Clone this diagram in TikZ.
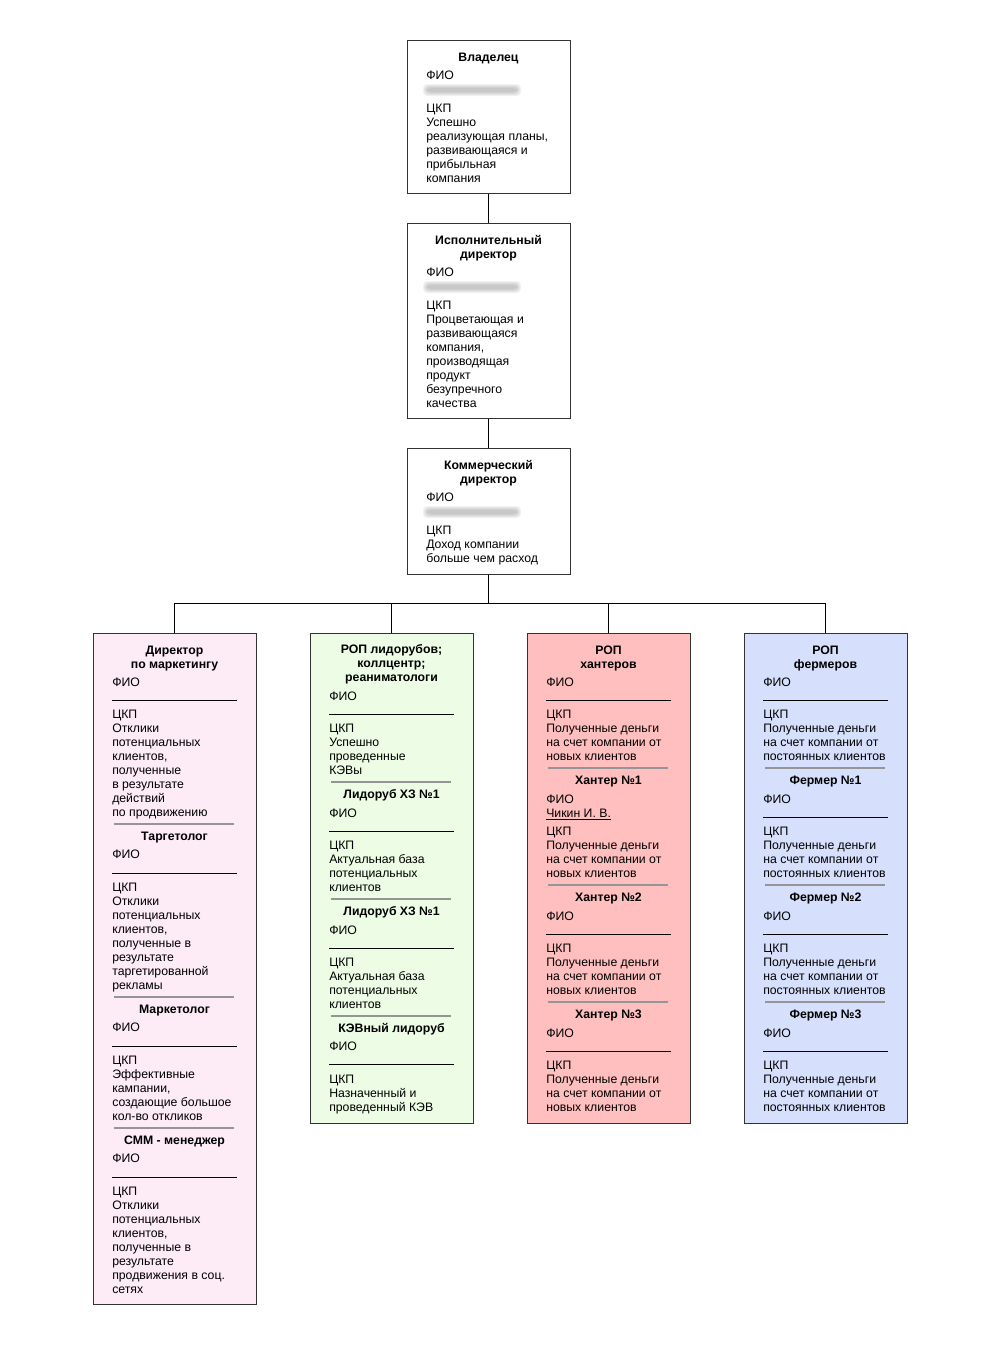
\documentclass[tikz,border=0pt]{standalone}
\usepackage{fontspec}
\setmainfont{Liberation Sans}
\usetikzlibrary{fit}
\definecolor{boxline}{HTML}{333333}
\definecolor{sepgray}{HTML}{959595}
\definecolor{pinkfill}{HTML}{FDEBF5}
\definecolor{greenfill}{HTML}{EDFDE5}
\definecolor{redfill}{HTML}{FFBFBF}
\definecolor{bluefill}{HTML}{D6DFFC}
\newcounter{tc}
\tikzset{
  box/.style={draw=boxline, line width=0.75pt, inner sep=0pt},
  txt/.style={anchor=base west, inner sep=0pt, font=\fontsize{9.2}{10.5}\selectfont},
  hdr/.style={anchor=base, inner sep=0pt, font=\fontsize{9.2}{10.5}\selectfont\bfseries},
  darkline/.style={line width=0.75pt, black},
  grayline/.style={line width=0.8pt, sepgray},
  conn/.style={line width=0.75pt, black},
}
\newcommand\ltx[2]{\stepcounter{tc}\node[txt] (t\arabic{tc}) at (19,#1) {#2};}
\newcommand\hdx[2]{\stepcounter{tc}\node[hdr] (t\arabic{tc}) at (81.5,#1) {#2};}
\newcommand\dkl[1]{\draw[darkline] (19,#1) -- (144,#1);}
\newcommand\gsl[1]{\draw[grayline] (21,#1) -- (141,#1);}
\newcommand\blurname[1]{\foreach \i in {0,...,4}{\fill[gray, opacity=0.1, rounded corners=3] (20-\i,#1-2-\i) rectangle (110+\i,#1+2+\i);}}
\begin{document}
\begin{tikzpicture}[x=0.75pt,y=-0.75pt]
\fill[white] (0,0) rectangle (1000,1357);
\useasboundingbox (0,0) rectangle (1000,1357);

% ---------- top boxes ----------
\begin{scope}[shift={(407,0)}]
\node[box, fill=white, fit={(0,40) (163,193)}] (owner) {};
\hdx{61.5}{Владелец}
\ltx{79.5}{ФИО}
\blurname{90}
\ltx{112.5}{ЦКП}
\ltx{126.5}{Успешно}
\ltx{140.5}{реализующая планы,}
\ltx{154.5}{развивающаяся и}
\ltx{168.5}{прибыльная}
\ltx{182.5}{компания}

\node[box, fill=white, fit={(0,223) (163,418)}] (exec) {};
\hdx{244.5}{Исполнительный}
\hdx{258.5}{директор}
\ltx{276.5}{ФИО}
\blurname{287}
\ltx{309.5}{ЦКП}
\ltx{323.5}{Процветающая и}
\ltx{337.5}{развивающаяся}
\ltx{351.5}{компания,}
\ltx{365.5}{производящая}
\ltx{379.5}{продукт}
\ltx{393.5}{безупречного}
\ltx{407.5}{качества}

\node[box, fill=white, fit={(0,448) (163,574)}] (comm) {};
\hdx{469.5}{Коммерческий}
\hdx{483.5}{директор}
\ltx{501.5}{ФИО}
\blurname{512}
\ltx{534.5}{ЦКП}
\ltx{548.5}{Доход компании}
\ltx{562.5}{больше чем расход}
\end{scope}

% ---------- column 1: marketing ----------
\begin{scope}[shift={(93,0)}]
\node[box, fill=pinkfill, fit={(0,633) (163,1304)}] (c1) {};
\hdx{654}{Директор}
\hdx{668}{по маркетингу}
\ltx{686.5}{ФИО}
\dkl{700}
\ltx{718.5}{ЦКП}
\ltx{732.5}{Отклики}
\ltx{746.5}{потенциальных}
\ltx{760.5}{клиентов,}
\ltx{774.5}{полученные}
\ltx{788.5}{в результате}
\ltx{802.5}{действий}
\ltx{816.5}{по продвижению}
\gsl{824}
\hdx{840}{Таргетолог}
\ltx{858.5}{ФИО}
\dkl{873}
\ltx{891.5}{ЦКП}
\ltx{905.5}{Отклики}
\ltx{919.5}{потенциальных}
\ltx{933.5}{клиентов,}
\ltx{947.5}{полученные в}
\ltx{961.5}{результате}
\ltx{975.5}{таргетированной}
\ltx{989.5}{рекламы}
\gsl{997}
\hdx{1013}{Маркетолог}
\ltx{1031.5}{ФИО}
\dkl{1046}
\ltx{1064.5}{ЦКП}
\ltx{1078.5}{Эффективные}
\ltx{1092.5}{кампании,}
\ltx{1106.5}{создающие большое}
\ltx{1120.5}{кол-во откликов}
\gsl{1128}
\hdx{1144}{СММ - менеджер}
\ltx{1162.5}{ФИО}
\dkl{1177}
\ltx{1195.5}{ЦКП}
\ltx{1209.5}{Отклики}
\ltx{1223.5}{потенциальных}
\ltx{1237.5}{клиентов,}
\ltx{1251.5}{полученные в}
\ltx{1265.5}{результате}
\ltx{1279.5}{продвижения в соц.}
\ltx{1293.5}{сетях}
\end{scope}

% ---------- column 2: lead cutters ----------
\begin{scope}[shift={(310,0)}]
\node[box, fill=greenfill, fit={(0,633) (163,1123)}] (c2) {};
\hdx{653.5}{РОП лидорубов;}
\hdx{667.5}{коллцентр;}
\hdx{681.5}{реаниматологи}
\ltx{700.5}{ФИО}
\dkl{714}
\ltx{732.5}{ЦКП}
\ltx{746.5}{Успешно}
\ltx{760.5}{проведенные}
\ltx{774.5}{КЭВы}
\gsl{782}
\hdx{798}{Лидоруб ХЗ №1}
\ltx{817}{ФИО}
\dkl{831}
\ltx{849.5}{ЦКП}
\ltx{863.5}{Актуальная база}
\ltx{877.5}{потенциальных}
\ltx{891.5}{клиентов}
\gsl{899}
\hdx{915}{Лидоруб ХЗ №1}
\ltx{934}{ФИО}
\dkl{948}
\ltx{966.5}{ЦКП}
\ltx{980.5}{Актуальная база}
\ltx{994.5}{потенциальных}
\ltx{1008.5}{клиентов}
\gsl{1016}
\hdx{1032}{КЭВный лидоруб}
\ltx{1050.5}{ФИО}
\dkl{1064}
\ltx{1083}{ЦКП}
\ltx{1097}{Назначенный и}
\ltx{1111}{проведенный КЭВ}
\end{scope}

% ---------- column 3: hunters ----------
\begin{scope}[shift={(527,0)}]
\node[box, fill=redfill, fit={(0,633) (163,1123)}] (c3) {};
\hdx{654}{РОП}
\hdx{668}{хантеров}
\ltx{686.5}{ФИО}
\dkl{700}
\ltx{718.5}{ЦКП}
\ltx{732.5}{Полученные деньги}
\ltx{746.5}{на счет компании от}
\ltx{760.5}{новых клиентов}
\gsl{768}
\hdx{784}{Хантер №1}
\ltx{803.5}{ФИО}
\ltx{817.5}{\underline{Чикин И. В.}}
\ltx{835.5}{ЦКП}
\ltx{849.5}{Полученные деньги}
\ltx{863.5}{на счет компании от}
\ltx{877.5}{новых клиентов}
\gsl{885}
\hdx{901}{Хантер №2}
\ltx{920}{ФИО}
\dkl{934}
\ltx{952.5}{ЦКП}
\ltx{966.5}{Полученные деньги}
\ltx{980.5}{на счет компании от}
\ltx{994.5}{новых клиентов}
\gsl{1002}
\hdx{1018}{Хантер №3}
\ltx{1037}{ФИО}
\dkl{1051}
\ltx{1069.5}{ЦКП}
\ltx{1083.5}{Полученные деньги}
\ltx{1097.5}{на счет компании от}
\ltx{1111.5}{новых клиентов}
\end{scope}

% ---------- column 4: farmers ----------
\begin{scope}[shift={(744,0)}]
\node[box, fill=bluefill, fit={(0,633) (163,1123)}] (c4) {};
\hdx{654}{РОП}
\hdx{668}{фермеров}
\ltx{686.5}{ФИО}
\dkl{700}
\ltx{718.5}{ЦКП}
\ltx{732.5}{Полученные деньги}
\ltx{746.5}{на счет компании от}
\ltx{760.5}{постоянных клиентов}
\gsl{768}
\hdx{784}{Фермер №1}
\ltx{803.5}{ФИО}
\dkl{817}
\ltx{835.5}{ЦКП}
\ltx{849.5}{Полученные деньги}
\ltx{863.5}{на счет компании от}
\ltx{877.5}{постоянных клиентов}
\gsl{885}
\hdx{901}{Фермер №2}
\ltx{920}{ФИО}
\dkl{934}
\ltx{952.5}{ЦКП}
\ltx{966.5}{Полученные деньги}
\ltx{980.5}{на счет компании от}
\ltx{994.5}{постоянных клиентов}
\gsl{1002}
\hdx{1018}{Фермер №3}
\ltx{1037}{ФИО}
\dkl{1051}
\ltx{1069.5}{ЦКП}
\ltx{1083.5}{Полученные деньги}
\ltx{1097.5}{на счет компании от}
\ltx{1111.5}{постоянных клиентов}
\end{scope}

% ---------- connectors ----------
\coordinate (bus) at (488.5,603);
\draw[conn] (owner.south) -- (exec.north);
\draw[conn] (exec.south) -- (comm.north);
\draw[conn] (comm.south) -- (bus);
\draw[conn] (bus) -| (c1.north);
\draw[conn] (bus) -| (c2.north);
\draw[conn] (bus) -| (c3.north);
\draw[conn] (bus) -| (c4.north);
\end{tikzpicture}
\end{document}
